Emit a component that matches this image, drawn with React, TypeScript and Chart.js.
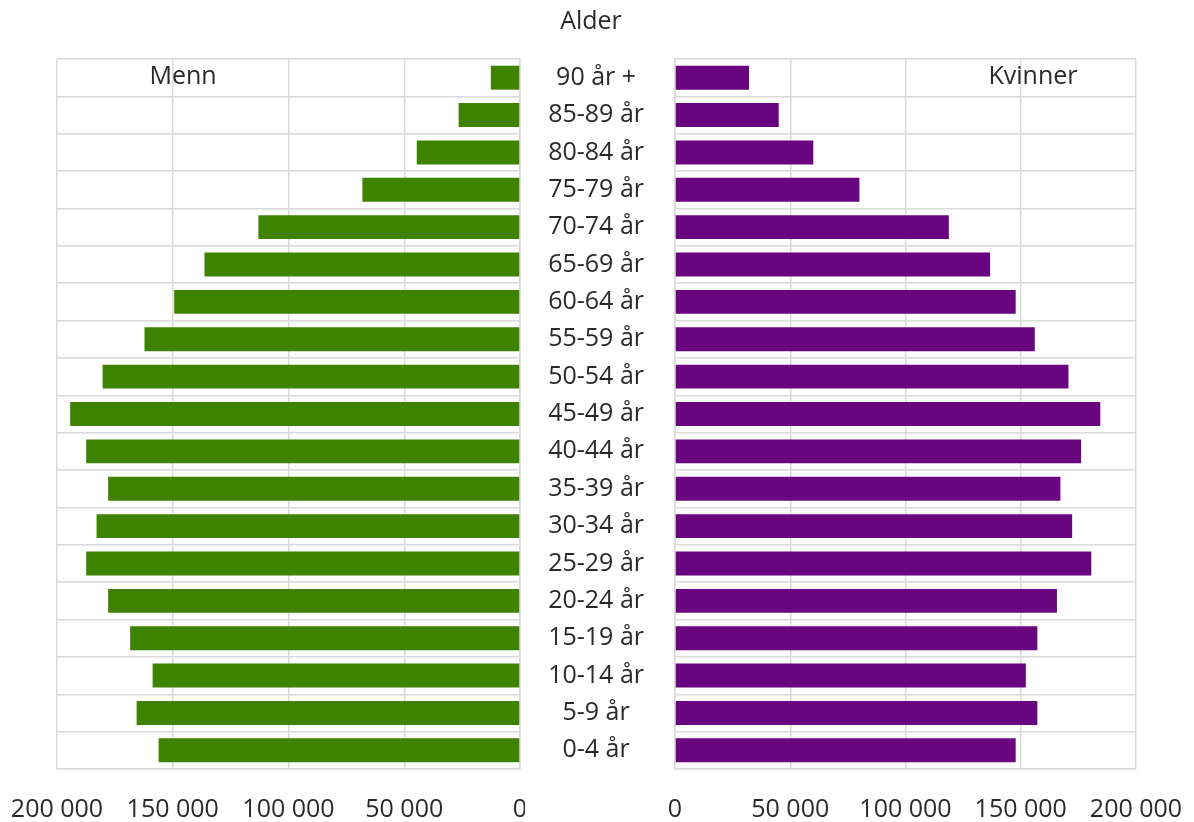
import React, { useEffect, useRef } from "react";
import { Chart, registerables } from "chart.js";

Chart.register(...registerables);

const categories = [
  "90 år +", "85-89 år", "80-84 år", "75-79 år", "70-74 år", "65-69 år",
  "60-64 år", "55-59 år", "50-54 år", "45-49 år", "40-44 år", "35-39 år",
  "30-34 år", "25-29 år", "20-24 år", "15-19 år", "10-14 år", "5-9 år", "0-4 år",
];
const menn = [
  12600, 26500, 44600, 68100, 113000, 136300, 149400, 162200, 180300, 194300,
  187400, 177900, 182900, 187400, 177900, 168400, 158700, 165600, 156100,
];
const kvinner = [
  32100, 45000, 60000, 80000, 118800, 136700, 147800, 156100, 170700, 184500,
  176200, 167200, 172300, 180600, 165700, 157200, 152200, 157200, 147800,
];
const axisMin = 0;
const axisMax = 200000;
const axisStep = 50000;
const titleText = "Alder";
const mennLabel = "Menn";
const kvinnerLabel = "Kvinner";

const FONT = "'Open Sans', 'Noto Sans', sans-serif";
const TEXT = "#2a2a2a";
const GRID = "#dadada";
const GREEN = "#3e8300";
const PURPLE = "#69057f";

const fmt = (v: number | string) =>
  String(v).replace(/\B(?=(\d{3})+(?!\d))/g, " ");

function makeOptions(side: "left" | "right", overlayText: (chart: any) => void) {
  return {
    type: "bar" as const,
    data: {
      labels: categories,
      datasets: [
        {
          label: side === "left" ? mennLabel : kvinnerLabel,
          data: side === "left" ? menn : kvinner,
          backgroundColor: side === "left" ? GREEN : PURPLE,
          borderWidth: 0,
          barPercentage: 0.8,
          categoryPercentage: 0.8,
        },
      ],
    },
    options: {
      indexAxis: "y" as const,
      responsive: false,
      animation: false as const,
      layout: {
        padding:
          side === "left"
            ? { left: 57, right: 5, top: 59, bottom: 0 }
            : { left: 0, right: 58, top: 59, bottom: 0 },
      },
      plugins: {
        legend: { display: false },
        tooltip: { enabled: false },
      },
      scales: {
        x: {
          type: "linear" as const,
          reverse: side === "left",
          min: axisMin,
          max: axisMax,
          ticks: {
            stepSize: axisStep,
            color: TEXT,
            font: { family: FONT, size: 25 },
            padding: 26,
            maxRotation: 0,
            callback: (v: any) => fmt(v),
          },
          grid: { color: GRID, lineWidth: 1.5, drawTicks: false },
          border: { color: GRID, width: 1.5 },
          afterFit: (axis: any) => {
            axis.height = 53;
            axis.paddingLeft = 0;
            axis.paddingRight = 0;
          },
        },
        y: {
          type: "category" as const,
          position: side === "left" ? ("right" as const) : ("left" as const),
          offset: true,
          ticks: {
            display: side === "right",
            crossAlign: "center" as const,
            padding: 31,
            color: TEXT,
            font: { family: FONT, size: 25 },
          },
          grid: { color: GRID, lineWidth: 1.5, drawTicks: false, offset: true },
          border: { color: GRID, width: 1.5 },
          afterFit: (axis: any) => {
            axis.width = side === "left" ? 0 : 150;
            axis.paddingTop = 0;
            axis.paddingBottom = 0;
          },
        },
      },
    },
    plugins: [
      {
        id: "overlayText" + side,
        afterDraw: (chart: any) => overlayText(chart),
      },
    ],
  };
}

export default function App() {
  const leftRef = useRef<HTMLCanvasElement>(null);
  const rightRef = useRef<HTMLCanvasElement>(null);

  useEffect(() => {
    const drawLeft = (chart: any) => {
      const { ctx, chartArea } = chart;
      ctx.save();
      ctx.fillStyle = TEXT;
      ctx.font = `25px ${FONT}`;
      ctx.textAlign = "center";
      ctx.textBaseline = "middle";
      ctx.fillText(mennLabel, chartArea.left + 126, chartArea.top + 18);
      ctx.restore();
    };
    const drawRight = (chart: any) => {
      const { ctx, chartArea } = chart;
      ctx.save();
      ctx.fillStyle = TEXT;
      ctx.font = `25px ${FONT}`;
      ctx.textAlign = "center";
      ctx.textBaseline = "middle";
      ctx.fillText(kvinnerLabel, chartArea.right - 103, chartArea.top + 18);
      ctx.fillText(titleText, chartArea.left - 84, 22);
      ctx.restore();
    };
    const left = new Chart(leftRef.current as HTMLCanvasElement, makeOptions("left", drawLeft) as any);
    const right = new Chart(rightRef.current as HTMLCanvasElement, makeOptions("right", drawRight) as any);
    return () => {
      left.destroy();
      right.destroy();
    };
  }, []);

  return (
    <div
      style={{
        position: "fixed",
        left: 0,
        top: 0,
        width: 1194,
        height: 822,
        background: "#ffffff",
        overflow: "hidden",
      }}
    >
      <canvas
        ref={leftRef}
        width={525}
        height={822}
        style={{ position: "absolute", left: 0, top: 0, width: 525, height: 822 }}
      />
      <canvas
        ref={rightRef}
        width={669}
        height={822}
        style={{ position: "absolute", left: 525, top: 0, width: 669, height: 822 }}
      />
    </div>
  );
}
